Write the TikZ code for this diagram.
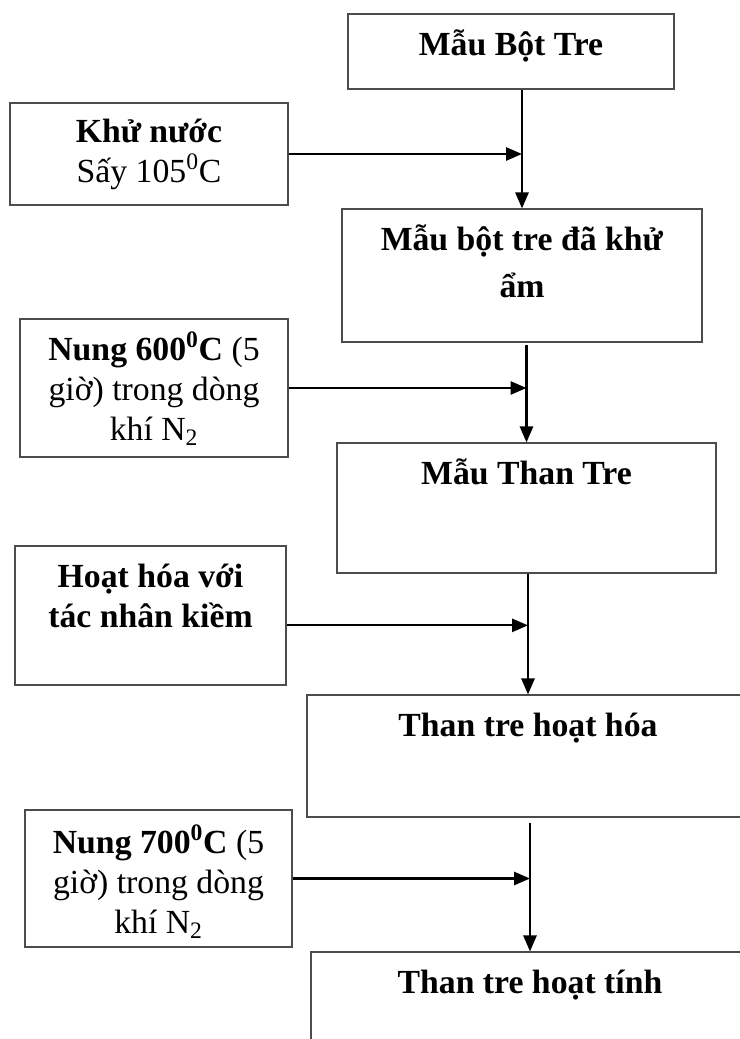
\documentclass[tikz,border=0pt]{standalone}
\usepackage{fontspec}
\setmainfont{Liberation Serif}
\usetikzlibrary{arrows.meta}

\begin{document}
\begin{tikzpicture}[
            x=0.025cm, y=-0.025cm,
            stage/.style={draw=black!70, line width=0.8pt, inner sep=0pt},
            txt/.style={anchor=base, yshift=-1.05cm, align=flush center, text width=6.5cm, inner sep=0pt, font=\fontsize{24}{28.5}\selectfont},
            ttl/.style={txt, text width=9cm},
            flow/.style={draw, line width=1.5pt, -{Triangle[length=4mm,width=3.3mm]}}
            ]
            \useasboundingbox (0,0) rectangle (740,1039);
            \clip (0,0) rectangle (740,1039);
            \node[stage, minimum width=8.15cm, minimum height=1.875cm, label={[ttl]north:{\textbf{Mẫu Bột Tre}}}] (bot) at (511,51.5) {};
            \node[stage, minimum width=6.95cm, minimum height=2.55cm, label={[txt, yshift=0.05cm]north:{\textbf{Khử nước}\\Sấy 105\textsuperscript{0}C}}] (khu) at (149,154) {};
            \node[stage, minimum width=9cm, minimum height=3.325cm, label={[ttl]north:{\textbf{Mẫu bột tre đã khử}\\[0.18cm]\textbf{ẩm}}}] (botkhu) at (522,275.5) {};
            \node[stage, minimum width=6.7cm, minimum height=3.45cm, label={[txt]north:{\textbf{Nung 600\textsuperscript{0}C} (5\\giờ) trong dòng\\khí N\textsubscript{2}}}] (nung6) at (154,388) {};
            \node[stage, minimum width=9.475cm, minimum height=3.25cm, label={[ttl]north:{\textbf{Mẫu Than Tre}}}] (than) at (526.5,508) {};
            \node[stage, minimum width=6.775cm, minimum height=3.475cm, label={[txt]north:{\textbf{Hoạt hóa với}\\\textbf{tác nhân kiềm}}}] (kiem) at (150.5,615.5) {};
            \node[stage, minimum width=11.05cm, minimum height=3.05cm, label={[ttl]north:{\textbf{Than tre hoạt hóa}}}] (hoathoa) at (528,756) {};
            \node[stage, minimum width=6.675cm, minimum height=3.425cm, label={[txt, yshift=-0.05cm]north:{\textbf{Nung 700\textsuperscript{0}C} (5\\giờ) trong dòng\\khí N\textsubscript{2}}}] (nung7) at (158.5,878.5) {};
            \node[stage, minimum width=10.95cm, minimum height=3cm, label={[ttl]north:{\textbf{Than tre hoạt tính}}}] (hoattinh) at (530,1012) {};

            \draw[flow] (bot.south -| botkhu.north) -- (botkhu.north);
            \draw[flow] (khu.east) -- (khu.east -| botkhu.north);
            \draw[flow] ([yshift=-2pt]botkhu.south -| than.north) -- (than.north);
            \draw[flow] (nung6.east) -- (nung6.east -| than.north);
            \draw[flow] (than.south -| hoathoa.north) -- (hoathoa.north);
            \draw[flow] ([yshift=-7pt]kiem.east) -- ([yshift=-7pt]kiem.east -| hoathoa.north);
            \draw[flow] ([yshift=-4pt]hoathoa.south -| hoattinh.north) -- (hoattinh.north);
            \draw[flow] (nung7.east) -- (nung7.east -| hoattinh.north);
        \end{tikzpicture}
\end{document}
